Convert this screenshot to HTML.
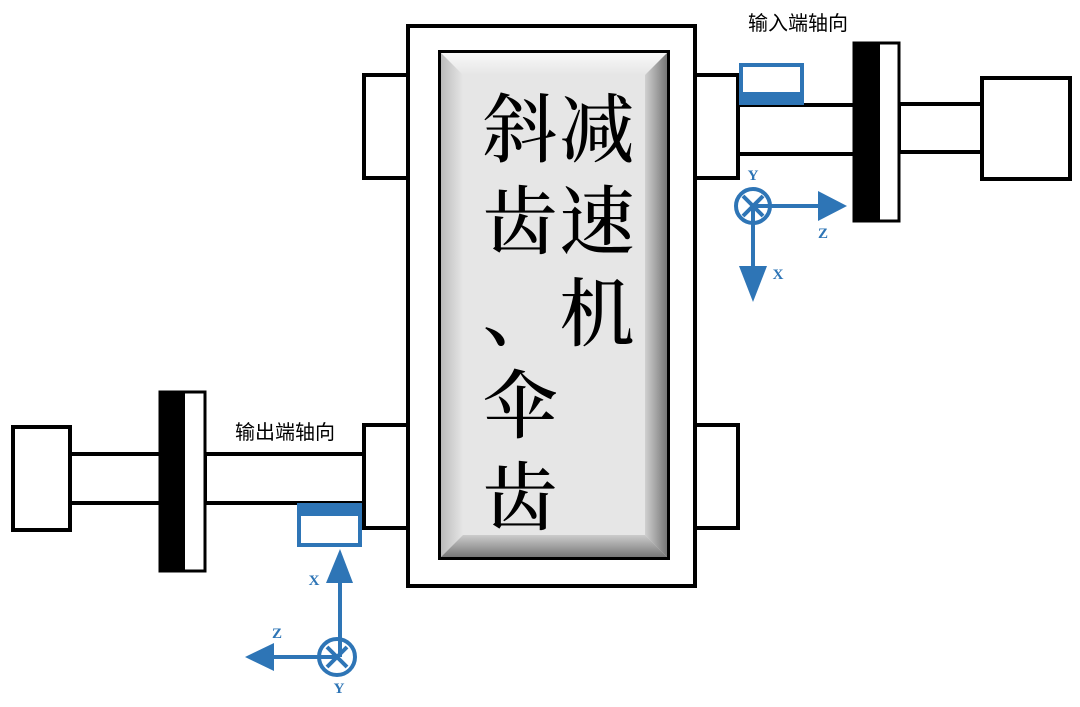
<!DOCTYPE html>
<html><head><meta charset="utf-8"><style>
html,body{margin:0;padding:0;background:#fff;}
svg{display:block;}
.sm{font-family:"Liberation Sans","Noto Sans CJK SC",sans-serif;font-size:20px;fill:#000;}
.big{font-family:"Liberation Serif","Noto Serif CJK SC",serif;font-size:75px;font-weight:500;fill:#000;text-anchor:middle;}
.ax{font-family:"Liberation Serif",serif;font-weight:bold;font-size:15px;fill:#2e75b6;text-anchor:middle;}
</style></head><body>
<svg width="1080" height="707" viewBox="0 0 1080 707" xmlns="http://www.w3.org/2000/svg">
<defs>
<linearGradient id="gl" x1="0" x2="1" y1="0" y2="0"><stop offset="0" stop-color="#bbb"/><stop offset="1" stop-color="#e6e6e6"/></linearGradient>
<linearGradient id="gr" x1="0" x2="1" y1="0" y2="0"><stop offset="0" stop-color="#d0d0d0"/><stop offset="1" stop-color="#777"/></linearGradient>
<linearGradient id="gt" x1="0" x2="0" y1="0" y2="1"><stop offset="0" stop-color="#f8f8f8"/><stop offset="1" stop-color="#e6e6e6"/></linearGradient>
<linearGradient id="gb" x1="0" x2="0" y1="0" y2="1"><stop offset="0" stop-color="#ccc"/><stop offset="1" stop-color="#777"/></linearGradient>
</defs>
<g fill="#fff" stroke="#000" stroke-width="4">
<rect x="364" y="75" width="44" height="103"/>
<rect x="695" y="75" width="43" height="103"/>
<rect x="364" y="425" width="44" height="103"/>
<rect x="695" y="425" width="43" height="103"/>
<rect x="408" y="26" width="287" height="560"/>
<rect x="738" y="105" width="117" height="49"/>
<rect x="899" y="104" width="83" height="48"/>
<rect x="982" y="78" width="88" height="101"/>
<rect x="70" y="454" width="92" height="49"/>
<rect x="205" y="454" width="159" height="49"/>
<rect x="13" y="427" width="57" height="103"/>
</g>
<rect x="438" y="50" width="232" height="510" fill="#000"/>
<rect x="441" y="53" width="226" height="504" fill="#e6e6e6"/>
<polygon points="441,53 667,53 645,75 463,75" fill="url(#gt)"/>
<polygon points="441,53 463,75 463,535 441,557" fill="url(#gl)"/>
<polygon points="667,53 667,557 645,535 645,75" fill="url(#gr)"/>
<polygon points="441,557 667,557 645,535 463,535" fill="url(#gb)"/>
<g class="big">
<text x="520" y="156">斜</text><text x="597" y="156">减</text>
<text x="520" y="248">齿</text><text x="597" y="248">速</text>
<text x="520" y="340">、</text><text x="597" y="340">机</text>
<text x="520" y="432">伞</text>
<text x="520" y="524">齿</text>
</g>
<rect x="854" y="43" width="45" height="178" fill="#fff" stroke="#000" stroke-width="3"/>
<rect x="854" y="43" width="26" height="178" fill="#000"/>
<rect x="160" y="392" width="45" height="179" fill="#fff" stroke="#000" stroke-width="3"/>
<rect x="160" y="392" width="25" height="179" fill="#000"/>
<text class="sm" x="748" y="30">输入端轴向</text>
<text class="sm" x="235" y="439">输出端轴向</text>
<rect x="741" y="65" width="61" height="38" fill="#fff" stroke="#2e75b6" stroke-width="4"/>
<rect x="741" y="92" width="61" height="11" fill="#2e75b6"/>
<rect x="299" y="505" width="61" height="40" fill="#fff" stroke="#2e75b6" stroke-width="4"/>
<rect x="299" y="505" width="61" height="11" fill="#2e75b6"/>
<g stroke="#2e75b6" stroke-width="4" fill="none">
<circle cx="753" cy="206" r="17"/>
<line x1="743" y1="196" x2="763" y2="216"/><line x1="763" y1="196" x2="743" y2="216"/>
<line x1="753" y1="206" x2="820" y2="206"/>
<line x1="753" y1="206" x2="753" y2="268"/>
<circle cx="337" cy="657" r="18"/>
<line x1="327" y1="647" x2="347" y2="667"/><line x1="347" y1="647" x2="327" y2="667"/>
<line x1="340" y1="657" x2="340" y2="580"/>
<line x1="337" y1="657" x2="272" y2="657"/>
</g>
<g fill="#2e75b6">
<polygon points="818,191 847,206 818,221"/>
<polygon points="739,266 767,266 753,302"/>
<polygon points="326,583 353,583 340,549"/>
<polygon points="274,643 274,671 245,657"/>
</g>
<text class="ax" x="753" y="180">Y</text>
<text class="ax" x="823" y="238">Z</text>
<text class="ax" x="778" y="279">X</text>
<text class="ax" x="314" y="585">X</text>
<text class="ax" x="277" y="638">Z</text>
<text class="ax" x="339" y="693">Y</text>
</svg>
</body></html>
